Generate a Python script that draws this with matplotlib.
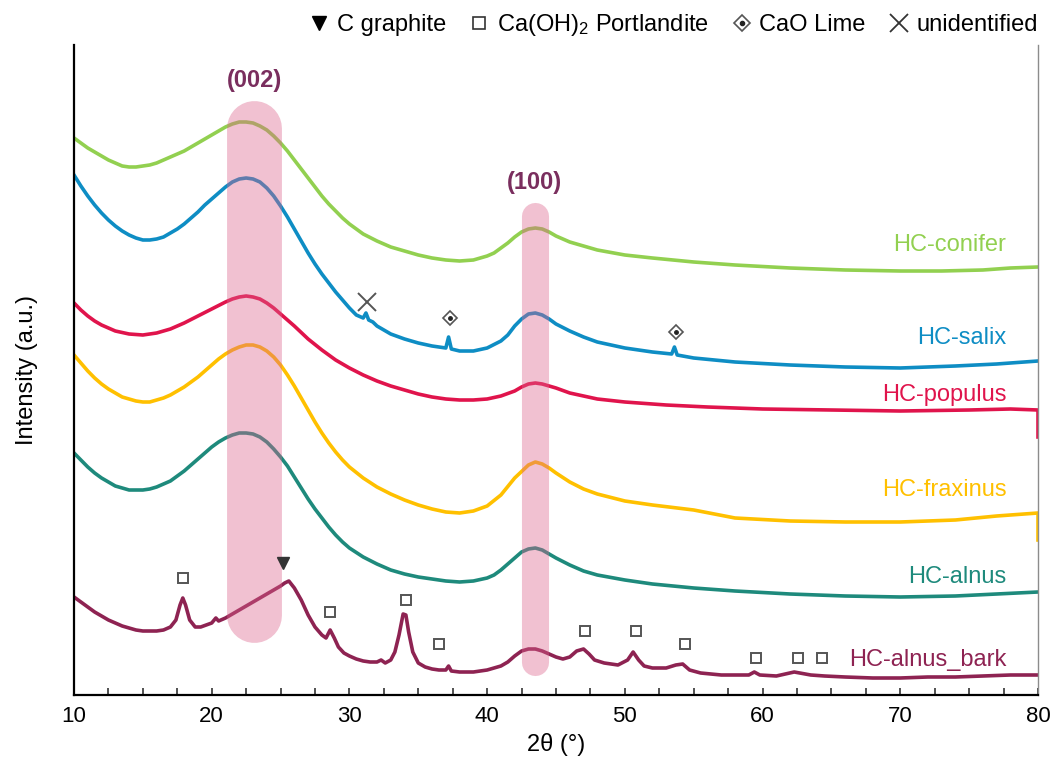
import matplotlib
matplotlib.use("Agg")
import matplotlib.pyplot as plt
from matplotlib.lines import Line2D
from matplotlib.legend_handler import HandlerTuple
from matplotlib.ticker import MultipleLocator

plt.rcParams['font.family'] = ['Liberation Sans', 'DejaVu Sans']
plt.rcParams['mathtext.fontset'] = 'custom'
plt.rcParams['mathtext.rm'] = 'Liberation Sans'
plt.rcParams['mathtext.default'] = 'regular'

# ---- XRD patterns (2theta in degrees, stacked intensity in a.u.) ----
tt_conifer = [10, 10.5, 11, 11.5, 12, 12.5, 13, 13.5, 14, 14.5, 15, 15.5, 16, 16.5, 17,
              17.5, 18, 18.5, 19, 19.5, 20, 20.5, 21, 21.5, 22, 22.5, 23, 23.5, 24,
              24.5, 25, 25.5, 26, 26.5, 27, 27.5, 28, 28.5, 29, 29.5, 30, 31, 32, 33,
              34, 35, 36, 37, 38, 39, 40, 40.5, 41, 41.5, 42, 42.5, 43, 43.5, 44, 44.5,
              45, 46, 47, 48, 50, 52, 55, 58, 62, 66, 70, 73, 76, 78, 80]
i_conifer = [557, 552, 547, 543, 539, 535, 532, 529, 528, 528, 529, 530, 532, 535, 538,
             541, 544, 548, 552, 556, 560, 564, 568, 571, 573, 573, 572, 569, 565,
             559, 552, 544, 535, 526, 517, 508, 499, 491, 484, 477, 471, 461, 454, 448,
             444, 440, 437, 435, 434, 435, 439, 442, 447, 452, 458, 463, 466, 467, 466, 463,
             459, 453, 449, 445, 440, 437, 433, 430, 427, 425, 424, 424, 425, 427, 428]

tt_salix = [10, 10.5, 11, 11.5, 12, 12.5, 13, 13.5, 14, 14.5, 15, 15.5, 16, 16.5, 17,
            17.5, 18, 18.5, 19, 19.5, 20, 20.5, 21, 21.5, 22, 22.5, 23, 23.5, 24, 24.5,
            25, 25.5, 26, 26.5, 27, 27.5, 28, 28.5, 29, 29.5, 30, 30.5, 31, 31.2, 31.4,
            31.7, 32, 33, 34, 35, 36, 37, 37.2, 37.4, 38, 39, 40, 41, 41.5, 42, 42.5,
            43, 43.5, 44, 44.5, 45, 46, 47, 48, 50, 52, 53.4, 53.6, 53.8, 55, 58, 62,
            66, 70, 74, 77, 80]
i_salix = [520, 509, 499, 490, 482, 475, 469, 464, 460, 457, 455, 455, 456, 458, 462,
           466, 471, 477, 483, 490, 496, 502, 508, 513, 516, 517, 516, 513, 507, 499,
           489, 478, 466, 454, 442, 431, 421, 412, 403, 395, 387, 380, 377, 382, 375,
           373, 369, 361, 356, 352, 349, 347, 358, 346, 344, 344, 347, 354, 360, 369, 376,
           381, 382, 380, 376, 371, 364, 358, 353, 347, 343, 341, 348, 340, 337, 333, 330,
           328, 327, 329, 331, 334]

tt_populus = [10, 10.5, 11, 11.5, 12, 12.5, 13, 14, 15, 16, 17, 18, 19, 20, 21, 21.5,
              22, 22.5, 23, 23.5, 24, 24.5, 25, 26, 27, 28, 29, 30, 31, 32, 33, 34, 35,
              36, 37, 38, 39, 40, 41, 42, 42.5, 43, 43.5, 44, 45, 46, 47, 48, 50, 53,
              56, 60, 65, 70, 75, 78, 80, 80]
i_populus = [392, 385, 379, 374, 370, 367, 364, 361, 360, 362, 366, 372, 379, 386, 393, 396,
             398, 399, 398, 396, 392, 387, 381, 369, 356, 345, 335, 327, 320, 314, 309, 305, 301,
             298, 296, 295, 295, 296, 299, 304, 308, 311, 312, 311, 307, 302, 299, 296, 293, 290,
             288, 286, 285, 284, 285, 286, 285, 258]

tt_fraxinus = [10, 10.5, 11, 11.5, 12, 12.5, 13, 13.5, 14, 14.5, 15, 15.5, 16, 16.5, 17,
               17.5, 18, 18.5, 19, 19.5, 20, 20.5, 21, 21.5, 22, 22.5, 23, 23.5, 24, 24.5,
               25, 25.5, 26, 26.5, 27, 27.5, 28, 28.5, 29, 29.5, 30, 31, 32, 33, 34, 35,
               36, 37, 38, 39, 40, 41, 42, 43, 43.5, 44, 44.5, 45, 46, 47, 48, 50, 52, 55,
               58, 62, 66, 70, 74, 77, 80, 80]
i_fraxinus = [340, 332, 324, 317, 311, 306, 302, 298, 296, 294, 293, 293, 295, 297, 300,
              304, 308, 313, 318, 324, 330, 336, 341, 345, 348, 350, 350, 348, 344, 338,
              330, 320, 309, 297, 285, 273, 262, 252, 243, 235, 228, 217, 208, 201, 195, 190,
              186, 183, 182, 184, 189, 200, 217, 230, 233, 231, 227, 222, 213, 206, 201, 194, 190,
              185, 177, 174, 173, 173, 175, 179, 182, 155]

tt_alnus = [10, 10.5, 11, 11.5, 12, 12.5, 13, 13.5, 14, 14.5, 15, 15.5, 16, 16.5, 17, 17.5,
            18, 18.5, 19, 19.5, 20, 20.5, 21, 21.5, 22, 22.5, 23, 23.5, 24, 24.5, 25, 25.5,
            26, 26.5, 27, 27.5, 28, 28.5, 29, 29.5, 30, 31, 32, 33, 34, 35, 36, 37, 38, 39,
            40, 40.5, 41, 41.5, 42, 42.5, 43, 43.5, 44, 44.5, 45, 46, 47, 48, 50, 52, 55,
            58, 62, 66, 70, 74, 77, 80]
i_alnus = [242, 235, 228, 222, 217, 213, 209, 207, 205, 205, 205, 206, 208, 211, 214, 219,
           224, 230, 236, 242, 248, 253, 257, 260, 262, 262, 261, 258, 253, 246, 238, 229,
           218, 207, 196, 186, 177, 168, 160, 153, 147, 138, 131, 125, 121, 118, 116, 114, 113,
           114, 117, 120, 125, 131, 137, 143, 146, 147, 145, 141, 137, 130, 124, 120, 115, 111,
           107, 104, 101, 99, 98, 99, 101, 103]

tt_bark = [10, 10.5, 11, 11.5, 12, 12.5, 13, 13.5, 14, 14.5, 15, 15.5, 16, 16.5, 17, 17.4,
           17.7, 17.9, 18.1, 18.4, 18.8, 19.2, 19.6, 20, 20.3, 20.5, 21, 21.5, 22, 22.5, 23,
           23.5, 24, 24.5, 25, 25.3, 25.6, 26, 26.5, 27, 27.5, 28, 28.3, 28.6, 28.9, 29.2,
           29.6, 30, 30.5, 31, 31.5, 32, 32.3, 32.6, 33, 33.3, 33.6, 33.9, 34.1, 34.3, 34.6,
           35, 35.5, 36, 36.5, 37, 37.2, 37.4, 38, 39, 40, 41, 41.5, 42, 42.5, 43, 43.5, 44,
           44.5, 45, 45.5, 46, 46.5, 47, 47.4, 47.8, 48.5, 49.5, 50.2, 50.6, 51, 51.4, 52,
           53, 53.7, 54.2, 54.7, 55.5, 57, 59, 59.4, 59.8, 61, 62.3, 62.7, 63.5, 64.5, 66,
           68, 70, 72, 74, 76, 78, 80]
i_bark = [98, 93, 88, 83, 79, 75, 72, 69, 67, 65, 64, 64, 64, 65, 68, 75,
          90, 97, 90, 75, 68, 68, 70, 72, 77, 74, 77, 81, 85, 89, 93,
          97, 101, 105, 109, 112, 114, 107, 95, 80, 68, 60, 57, 65, 57, 48,
          42, 39, 36, 34, 33, 33, 35, 32, 35, 43, 60, 81, 80, 63, 43,
          32, 28, 26, 25, 25, 29, 24, 23, 23, 25, 29, 33, 39, 44, 46, 46, 44,
          41, 38, 36, 38, 44, 46, 41, 35, 32, 30, 35, 43, 35, 29, 27,
          27, 30, 31, 25, 22, 20, 20, 23, 20, 19, 23, 22, 20, 19, 18,
          17, 17, 18, 18, 19, 20, 20]

names = ['HC-conifer', 'HC-salix', 'HC-populus', 'HC-fraxinus', 'HC-alnus', 'HC-alnus_bark']
colors = ['#92D050', '#0E8DC4', '#E0144C', '#FFC000', '#1E8A7C', '#8E2352']
label_y = [450, 357, 300, 205, 118, 35]

# phase reference positions
portlandite_tt = [17.9, 28.6, 34.1, 36.5, 47.1, 50.8, 54.4, 59.5, 62.6, 64.3]
portlandite_y = [117, 83, 95, 51, 64, 64, 51, 37, 37, 37]
graphite_tt, graphite_y = [25.2], [132]
lime_tt, lime_y = [37.3, 53.7], [377, 363]
unknown_tt, unknown_y = [31.3], [393]

series = [(tt_conifer, i_conifer), (tt_salix, i_salix), (tt_populus, i_populus),
          (tt_fraxinus, i_fraxinus), (tt_alnus, i_alnus), (tt_bark, i_bark)]

fig = plt.figure(figsize=(10.51, 7.67), dpi=100)
ax = fig.add_axes([74 / 1051, 72 / 767, 964 / 1051, 650 / 767])
ax.set_xlim(10, 80)
ax.set_ylim(0, 650)

for (tt, inten), name, col, ly in zip(series, names, colors, label_y):
    ax.plot(tt, inten, color=col, lw=2.6, solid_joinstyle='round', zorder=2)
    ax.text(77.7, ly, name, color=col, fontsize=17, ha='right', va='center')

# highlighted reflections, drawn as translucent rounded bars
band_color = '#DC648C'
ax.plot([23.1, 23.1], [80, 567], color=band_color, alpha=0.4, lw=39.5,
        solid_capstyle='round', zorder=3)
ax.plot([43.45, 43.45], [33, 479], color=band_color, alpha=0.4, lw=19.5,
        solid_capstyle='round', zorder=3)
ax.text(23.1, 615, '(002)', color='#7A2E5E', fontsize=17, fontweight='bold',
        ha='center', va='center')
ax.text(43.45, 512, '(100)', color='#7A2E5E', fontsize=17, fontweight='bold',
        ha='center', va='center')

mk_gray = '#555555'
ax.plot(portlandite_tt, portlandite_y, ls='none', marker='s', ms=7.5, mfc='white',
        mec=mk_gray, mew=1.4, zorder=4)
ax.plot(graphite_tt, graphite_y, ls='none', marker='v', ms=9, color='#333333', zorder=4)
ax.plot(lime_tt, lime_y, ls='none', marker='D', ms=7, mfc='white', mec=mk_gray,
        mew=1.2, zorder=4)
ax.plot(lime_tt, lime_y, ls='none', marker='o', ms=2.5, color='#222222', zorder=5)
ax.plot(unknown_tt, unknown_y, ls='none', marker='x', ms=13, mec='#555555',
        mew=1.4, zorder=4)

# legend of phase symbols above the frame
h_graph = Line2D([], [], ls='none', marker='v', ms=10, color='black')
h_port = Line2D([], [], ls='none', marker='s', ms=8, mfc='white', mec='#333333', mew=1.2)
h_lime = (Line2D([], [], ls='none', marker='D', ms=8, mfc='white', mec=mk_gray, mew=1.2),
          Line2D([], [], ls='none', marker='o', ms=3, color='#222222'))
h_unk = Line2D([], [], ls='none', marker='x', ms=13, mec='#333333', mew=1.3)
ax.legend([h_graph, h_port, h_lime, h_unk],
          ['C graphite', 'Ca(OH)$_2$ Portlandite', 'CaO Lime', 'unidentified'],
          handler_map={tuple: HandlerTuple(ndivide=1)},
          ncol=4, loc='center right', bbox_to_anchor=(1.0, 1 + 20 / 650),
          frameon=False, fontsize=17, handlelength=0.8, handletextpad=0.35,
          columnspacing=1.0, borderpad=0, borderaxespad=0)

ax.spines['top'].set_visible(False)
ax.spines['right'].set_color('#8C8C8C')
ax.spines['right'].set_linewidth(1.0)
ax.spines['left'].set_linewidth(1.6)
ax.spines['bottom'].set_linewidth(1.6)

ax.xaxis.set_major_locator(MultipleLocator(10))
ax.xaxis.set_minor_locator(MultipleLocator(2.5))
ax.tick_params(axis='x', which='both', direction='in', length=5, width=1.2,
               color='#333333', labelsize=16, pad=8)
ax.set_yticks([])

ax.set_xlabel('2θ (°)', fontsize=17, labelpad=4)
ax.set_ylabel('Intensity (a.u.)', fontsize=17, labelpad=26)

fig.savefig('out.png', dpi=100)
